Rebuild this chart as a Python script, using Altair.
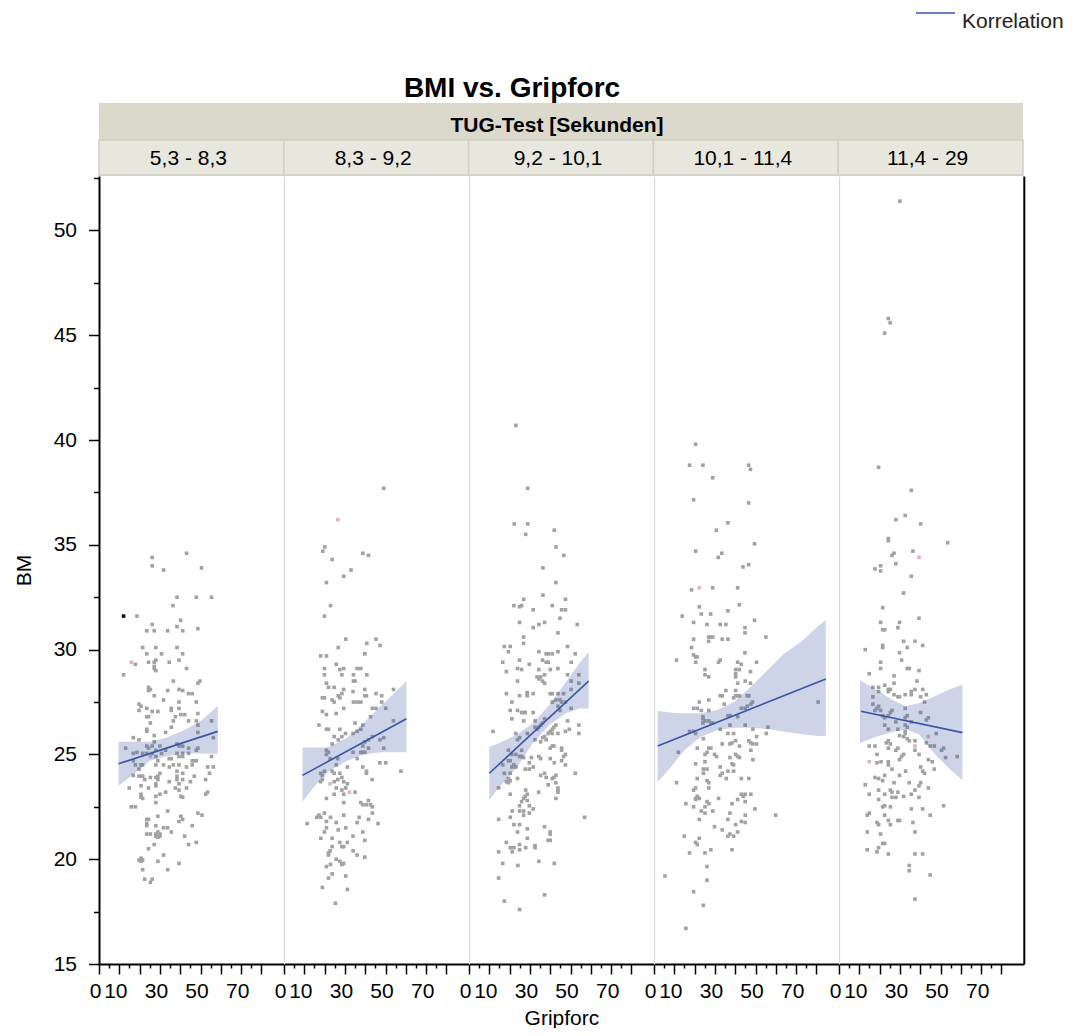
import altair as alt
import pandas as pd

groups = ["5,3 - 8,3", "8,3 - 9,2", "9,2 - 10,1", "10,1 - 11,4", "11,4 - 29"]
facet_title = "TUG-Test [Sekunden]"
chart_title = "BMI vs. Gripforc"
x_title = "Gripforc"
y_title = "BM"
legend_label = "Korrelation"

# (Gripforc, BMI) per panel
p1 = [(43.1,34.6),(26.2,34.4),(26.2,34.0),(50.5,33.9),(31.8,33.8),(38.4,32.5),(47.9,32.5),(55.4,32.5),
      (36.4,32.1),(18.7,31.6),(40.2,31.4),(26.2,31.2),(23.5,30.9),(27.2,30.9),(33.8,30.9),(38.4,31.1),
      (41.2,30.9),(48.7,31.0),(21.5,30.1),(28.0,30.1),(38.4,30.1),(23.5,29.8),(30.8,29.8),(41.2,29.8),
      (17.9,29.3),(24.4,29.4),(27.2,29.4),(28.0,29.5),(34.6,29.4),(39.4,29.5),(27.2,29.2),(27.2,29.1),
      (28.0,29.0),(43.1,29.1),(12.1,28.8),(36.6,28.5),(49.7,28.5),(48.7,28.4),(24.4,28.2),(25.3,28.1),
      (24.4,28.05),(33.8,28.05),(39.4,28.1),(41.2,28.05),(44.1,27.9),(45.9,27.9),(27.2,27.8),(31.8,27.6),
      (39.4,27.5),(47.9,27.5),(19.7,27.4),(20.7,27.3),(23.5,27.2),(19.7,27.1),(35.6,27.2),(35.6,27.1),
      (39.4,27.2),(26.2,27.05),(29.0,27.05),(37.6,26.8),(40.3,26.9),(42.2,26.9),(48.7,26.95),(23.5,26.8),
      (24.4,26.8),(36.6,26.6),(44.1,26.6),(47.9,26.6),(55.4,26.6),(25.3,26.5),(35.6,26.3),(48.7,26.4),
      (23.5,26.2),(23.5,26.1),(32.8,26.05),(48.7,26.05),(27.2,25.9),(16.9,25.8),(19.7,25.7),(56.3,25.8),
      (27.2,25.6),(13.1,25.3),(23.5,25.4),(24.4,25.3),(26.2,25.4),(30.0,25.4),(28.0,25.2),(32.8,25.2),
      (38.4,25.5),(39.4,25.4),(41.2,25.4),(44.1,25.3),(47.9,25.2),(48.7,25.3),(16.9,25.05),(18.7,25.1),
      (21.5,25.05),(23.5,25.05),(26.2,25.05),(30.8,25.05),(38.4,25.05),(41.2,25.05),(44.1,25.05),
      (28.0,24.9),(29.0,24.7),(34.6,24.8),(35.6,24.8),(39.4,24.9),(41.2,24.9),(45.9,24.7),(47.9,24.7),
      (55.4,24.9),(16.9,24.7),(17.9,24.5),(20.7,24.5),(21.5,24.5),(28.0,24.5),(31.8,24.5),(34.6,24.4),
      (36.6,24.5),(39.4,24.5),(43.1,24.4),(45.9,24.5),(46.9,24.7),(53.5,24.4),(56.3,24.4),(19.7,24.3),
      (54.4,24.1),(30.0,24.1),(29.0,23.96),(38.4,24.2),(38.4,23.96),(16.9,24.0),(41.2,24.1),(19.7,23.96),
      (20.7,23.96),(21.5,23.96),(28.0,23.9),(25.3,23.9),(22.5,23.8),(29.0,23.8),(38.4,23.8),(41.2,23.8),
      (46.9,23.96),(52.5,23.8),(34.6,23.7),(39.4,23.6),(45.0,23.7),(28.0,23.6),(28.0,23.5),(20.7,23.5),
      (37.6,23.4),(39.4,23.3),(43.1,23.4),(14.9,23.4),(24.4,23.4),(32.8,23.2),(30.0,23.1),(20.7,23.1),
      (28.0,23.0),(40.3,23.0),(41.2,22.96),(20.7,22.96),(21.5,22.9),(52.5,23.1),(53.5,23.2),(15.9,22.5),
      (17.9,22.5),(28.0,22.7),(33.8,22.3),(48.7,22.2),(50.7,22.1),(29.0,22.05),(40.3,22.05),(23.5,21.9),
      (24.4,21.9),(41.2,21.9),(39.4,21.8),(23.5,21.7),(23.5,21.6),(28.0,21.6),(31.8,21.5),(33.8,21.5),
      (45.9,21.6),(35.6,21.3),(23.5,21.2),(25.3,21.2),(28.0,21.2),(29.0,21.3),(30.0,21.2),(28.0,21.1),
      (30.0,21.1),(29.0,21.05),(42.2,21.1),(27.2,20.7),(44.1,20.7),(47.9,20.8),(24.4,20.5),(31.8,20.2),
      (20.7,20.05),(21.5,19.96),(19.7,19.96),(20.7,19.9),(29.0,19.9),(39.4,19.8),(21.5,19.5),(33.8,19.5),
      (22.5,19.05),(26.2,19.05),(25.3,18.9)]

p2 = [(49.1,37.7),(20.1,34.9),(19.1,34.7),(23.7,34.3),(38.8,34.6),(41.6,34.5),(33.0,33.8),(29.4,33.5),
      (20.9,33.2),(22.9,32.1),(19.9,31.6),(30.4,30.5),(45.3,30.5),(40.8,30.3),(47.3,30.2),(26.7,30.1),
      (18.1,29.7),(20.9,29.7),(39.8,29.8),(25.7,29.3),(29.4,29.1),(27.5,29.05),(19.9,29.1),(36.0,29.1),
      (37.8,29.1),(19.9,28.8),(28.5,28.8),(34.2,28.8),(40.8,28.8),(20.9,28.4),(21.9,28.2),(24.7,28.2),
      (34.2,28.5),(35.0,28.5),(29.4,28.1),(34.0,28.0),(39.8,28.1),(53.9,28.1),(45.3,27.9),(48.1,27.8),
      (18.9,27.7),(19.9,27.7),(23.7,27.6),(24.7,27.5),(26.7,27.8),(27.5,27.7),(28.5,27.9),(34.2,27.5),
      (36.0,27.5),(37.8,27.5),(39.8,27.8),(40.6,27.8),(48.1,27.5),(43.5,27.2),(45.3,27.2),(50.1,27.2),
      (29.4,27.2),(18.9,27.05),(20.9,26.9),(25.7,26.95),(42.6,26.8),(17.2,26.4),(20.9,26.2),(21.9,26.2),
      (27.5,26.2),(35.0,26.5),(53.9,26.6),(38.8,26.4),(37.8,26.2),(36.0,26.1),(30.3,26.0),(34.0,26.0),
      (24.7,25.85),(28.5,25.85),(26.7,25.7),(43.5,25.85),(49.1,25.8),(47.3,25.7),(41.6,25.7),(39.8,25.6),
      (23.7,25.5),(38.8,25.4),(41.6,25.3),(49.1,25.3),(20.9,25.2),(21.9,25.1),(20.9,25.0),(22.7,24.8),
      (26.5,24.8),(34.0,25.1),(37.8,25.1),(38.8,25.1),(39.8,25.1),(25.7,24.5),(31.2,24.4),(36.0,24.8),
      (47.2,24.6),(50.1,24.6),(38.8,24.4),(40.6,24.2),(40.6,24.1),(57.6,24.2),(18.1,24.1),(18.9,24.0),
      (19.9,24.2),(23.7,24.2),(24.7,24.1),(27.5,24.1),(28.5,23.9),(26.5,23.8),(18.0,23.7),(18.9,23.8),
      (43.4,23.8),(24.7,23.7),(29.4,23.7),(31.2,23.6),(30.4,23.4),(25.7,23.4),(28.5,23.3),(35.0,23.2),
      (29.4,23.1),(24.7,23.1),(20.9,22.9),(41.6,22.8),(37.8,22.7),(38.8,22.6),(40.6,22.6),(42.6,22.6),
      (43.5,22.5),(29.4,22.7),(43.5,22.2),(19.9,22.2),(17.2,22.1),(16.2,22.0),(18.1,22.0),(22.9,22.0),
      (29.4,22.1),(37.0,22.0),(41.6,21.9),(20.9,21.8),(25.7,21.75),(36.0,21.75),(46.3,21.7),(11.4,21.7),
      (19.9,21.3),(20.9,21.5),(26.7,21.4),(30.4,21.5),(38.8,21.3),(34.0,21.1),(18.1,21.0),(23.7,21.0),
      (39.8,20.9),(27.5,20.8),(31.2,20.8),(28.5,20.6),(29.4,20.6),(23.7,20.6),(22.7,20.4),(21.9,20.3),
      (21.9,20.2),(34.0,20.4),(36.0,20.2),(39.8,20.1),(25.7,20.0),(27.5,19.9),(29.4,19.8),(28.5,19.75),
      (22.9,19.75),(20.9,19.65),(23.7,19.3),(21.9,19.1),(30.4,19.2),(18.9,18.65),(31.2,18.56),(25.3,17.9)]

p3 = [(23.1,40.7),(28.9,37.7),(22.3,36.0),(28.9,36.0),(27.9,35.5),(42.0,35.7),(42.8,34.9),(46.7,34.5),
      (36.4,33.9),(42.8,33.2),(36.4,32.6),(47.5,32.4),(26.9,32.4),(22.1,32.1),(24.9,32.05),(25.9,32.1),
      (41.0,32.1),(31.6,31.9),(45.6,31.9),(47.5,31.9),(44.8,31.5),(24.9,31.3),(37.2,31.3),(34.4,31.2),
      (31.6,31.05),(53.3,31.2),(43.8,30.8),(26.9,30.6),(26.9,30.3),(17.4,30.15),(20.3,30.15),(48.5,30.15),
      (19.4,29.9),(34.4,29.9),(38.0,29.8),(39.0,29.8),(41.0,29.8),(43.8,29.9),(52.3,29.8),(16.6,29.4),
      (24.9,29.5),(29.7,29.3),(36.2,29.5),(38.0,29.4),(39.0,29.4),(50.3,29.4),(18.4,28.95),(23.9,29.1),
      (25.9,29.05),(34.4,29.05),(40.0,29.05),(43.8,29.1),(37.2,28.8),(33.5,28.7),(35.3,28.7),(34.4,28.6),
      (36.2,28.5),(37.2,28.4),(23.9,28.5),(48.5,28.8),(54.1,28.8),(50.3,28.5),(54.1,28.4),(50.3,28.1),
      (18.4,27.9),(28.7,27.95),(28.7,27.9),(28.7,27.8),(31.6,27.9),(40.0,27.9),(41.0,27.9),(43.8,27.9),
      (46.6,27.9),(24.9,27.8),(21.1,27.5),(41.0,27.5),(42.8,27.6),(44.8,27.6),(45.6,27.5),(47.5,27.5),
      (43.8,27.3),(50.3,27.2),(20.3,27.1),(23.9,27.1),(25.9,27.0),(26.9,27.0),(27.7,27.0),(31.6,27.0),
      (44.8,27.1),(21.1,26.7),(26.9,26.6),(32.5,26.6),(37.2,26.7),(48.5,26.6),(36.2,26.5),(35.3,26.4),
      (32.5,26.3),(33.5,26.2),(34.3,26.3),(41.8,26.3),(42.8,26.4),(54.1,26.4),(11.8,26.1),(23.1,26.0),
      (28.7,26.0),(41.0,26.2),(39.0,26.0),(40.0,26.1),(41.0,26.0),(43.8,26.0),(47.5,26.1),(49.4,26.2),
      (54.1,26.0),(23.9,25.7),(24.9,25.8),(37.2,25.85),(36.2,25.8),(32.5,25.7),(38.0,25.7),(35.3,25.6),
      (25.9,25.2),(19.4,25.2),(40.0,25.3),(41.0,25.4),(41.8,25.4),(45.6,25.3),(45.6,25.2),(47.5,25.0),
      (46.6,24.9),(23.1,25.0),(21.1,25.0),(24.9,24.9),(25.9,24.9),(26.9,24.85),(34.4,24.9),(35.3,24.8),
      (40.0,24.8),(19.4,24.7),(20.3,24.7),(30.7,24.85),(29.7,24.6),(42.0,24.6),(45.6,24.7),(47.5,24.5),
      (16.6,24.5),(22.1,24.5),(23.1,24.4),(21.1,24.4),(27.7,24.3),(29.7,24.3),(31.6,24.4),(52.3,24.1),
      (17.4,24.1),(20.3,24.1),(35.3,24.0),(37.2,24.1),(38.0,23.9),(42.8,24.0),(41.8,23.9),(41.0,23.85),
      (19.4,23.85),(23.9,23.85),(18.4,23.7),(20.3,23.75),(19.4,23.65),(39.0,23.55),(42.8,23.65),(14.6,23.4),
      (43.8,23.4),(43.8,23.3),(43.8,23.2),(27.9,23.3),(34.3,23.2),(20.3,23.1),(28.7,23.1),(27.7,23.0),
      (26.9,22.9),(28.7,22.8),(42.8,22.9),(25.9,22.75),(29.7,22.55),(24.9,22.55),(31.6,22.4),(26.9,22.3),
      (21.3,22.3),(24.9,22.3),(29.7,22.2),(26.9,22.1),(20.3,22.0),(14.6,21.9),(56.9,22.0),(22.1,21.65),
      (24.9,21.65),(37.2,21.55),(28.7,21.45),(23.9,21.3),(40.0,21.3),(40.0,21.2),(39.0,20.9),(40.0,20.9),
      (28.7,21.0),(18.4,20.8),(24.9,20.7),(20.3,20.55),(22.1,20.55),(21.3,20.35),(24.9,20.45),(27.9,20.55),
      (32.5,20.65),(32.5,20.55),(14.6,20.35),(16.6,19.8),(34.4,19.9),(42.0,19.8),(24.1,19.7),(14.6,19.1),
      (37.2,18.3),(17.4,18.0),(24.9,17.6)]

p4 = [(20.5,39.8),(17.5,38.8),(24.1,38.8),(46.6,38.8),(47.5,38.6),(28.9,38.2),(19.5,37.15),(46.6,37.0),
      (36.4,36.05),(30.7,35.7),(49.5,35.05),(20.5,34.7),(33.4,34.6),(31.6,34.4),(43.8,33.95),(46.6,34.05),
      (18.5,32.85),(28.9,32.95),(41.2,32.95),(22.3,32.04),(42.0,32.14),(13.9,31.6),(23.3,31.7),(27.9,31.7),
      (36.4,31.85),(19.5,31.3),(26.1,31.2),(32.6,31.2),(35.4,31.2),(49.5,31.4),(44.8,31.05),(44.8,30.8),
      (26.9,30.6),(27.9,30.6),(28.9,30.6),(26.9,30.4),(33.6,30.5),(36.4,30.5),(19.5,30.5),(55.1,30.6),
      (18.5,30.1),(44.8,29.85),(11.1,29.5),(20.5,29.4),(20.5,29.65),(19.5,29.75),(21.3,29.65),(31.8,29.4),
      (32.6,29.5),(41.2,29.4),(43.0,29.3),(50.5,29.4),(25.1,29.05),(40.2,29.05),(42.0,29.05),(47.5,28.95),
      (25.1,28.8),(26.9,28.7),(40.2,28.85),(40.2,28.7),(41.2,28.4),(47.5,28.4),(44.9,28.5),(35.4,28.05),
      (40.2,28.05),(33.6,27.8),(32.6,27.8),(34.6,27.4),(39.2,27.7),(40.2,27.8),(41.2,27.8),(42.1,27.8),
      (45.9,27.8),(46.7,27.8),(22.3,27.5),(27.0,27.6),(43.0,27.2),(44.9,27.2),(45.9,27.3),(47.7,27.4),
      (48.5,27.5),(19.5,27.2),(21.3,27.2),(23.3,27.1),(27.0,27.1),(24.1,26.8),(24.1,26.7),(25.1,26.6),
      (27.0,26.6),(28.0,26.5),(24.1,26.5),(28.9,26.5),(37.4,26.85),(36.4,26.85),(41.2,26.8),(37.4,26.4),
      (32.6,26.2),(44.9,26.4),(48.7,26.2),(56.1,26.3),(17.5,26.1),(20.5,26.0),(19.5,26.1),(36.4,26.0),
      (39.2,26.0),(55.3,26.0),(50.5,25.85),(24.3,25.75),(46.7,25.65),(47.7,25.55),(48.7,25.5),(50.5,25.5),
      (33.6,25.5),(37.4,25.5),(38.4,25.55),(40.2,25.65),(42.1,25.4),(21.3,25.3),(27.0,25.3),(28.0,25.3),
      (26.1,25.1),(25.1,25.0),(29.8,25.0),(30.8,24.9),(12.0,25.1),(47.7,25.2),(40.2,25.0),(41.2,24.9),
      (42.1,24.85),(37.4,24.85),(48.7,24.75),(25.1,24.65),(20.5,24.55),(38.4,24.55),(39.2,24.5),(32.6,24.4),
      (24.3,24.3),(26.1,24.3),(36.4,24.2),(39.2,24.2),(33.6,24.1),(24.3,24.1),(32.6,24.0),(21.3,23.85),
      (35.6,23.85),(43.0,23.85),(46.7,23.85),(26.1,23.75),(27.0,23.65),(27.0,23.4),(11.1,23.65),(20.5,23.4),
      (19.5,23.3),(21.3,23.0),(20.5,22.9),(22.3,22.9),(20.5,22.85),(31.8,22.9),(41.2,22.85),(43.0,23.1),
      (44.9,23.1),(47.7,23.1),(44.0,23.0),(44.9,22.75),(15.7,22.65),(26.1,22.75),(27.0,22.65),(38.4,22.65),
      (19.5,22.5),(25.1,22.5),(28.9,22.3),(23.3,22.3),(25.1,22.2),(37.4,22.2),(49.7,22.4),(44.9,22.1),
      (22.3,21.9),(36.4,21.9),(43.0,21.8),(44.9,21.75),(59.9,22.1),(29.8,21.55),(40.2,21.65),(33.6,21.4),
      (41.2,21.3),(37.4,21.2),(36.4,21.1),(39.2,21.1),(14.9,21.1),(22.3,21.0),(20.5,20.8),(21.3,20.7),
      (28.0,20.45),(38.4,20.45),(17.5,20.3),(25.1,20.3),(26.1,19.65),(5.4,19.2),(26.1,19.0),(19.5,18.45),
      (24.3,17.8),(15.7,16.7),(80.8,27.5)]

p5 = [(30.0,51.4),(24.3,45.8),(25.2,45.6),(22.5,45.1),(19.5,38.7),(35.6,37.6),(28.0,36.2),(32.6,36.4),
      (40.2,36.0),(24.3,35.3),(24.3,35.2),(53.5,35.1),(36.4,34.7),(26.1,34.5),(27.1,34.6),(28.0,34.1),
      (20.5,34.0),(17.7,33.85),(20.5,33.75),(35.6,33.5),(31.8,32.7),(21.5,32.0),(20.5,31.3),(29.8,31.3),
      (39.4,31.5),(21.5,30.95),(22.5,30.95),(29.0,31.05),(31.8,30.4),(37.4,30.4),(33.6,30.1),(21.5,30.2),
      (21.5,30.1),(41.2,30.2),(12.9,30.0),(29.8,29.85),(30.8,29.5),(20.5,29.4),(20.5,29.1),(33.6,29.1),
      (34.6,29.1),(39.4,29.0),(14.9,28.85),(27.1,28.75),(27.1,28.4),(38.4,28.5),(22.5,28.3),(16.7,28.2),
      (19.5,28.2),(19.5,28.0),(24.3,28.1),(25.3,28.1),(24.3,28.0),(37.4,28.1),(35.6,28.0),(41.2,28.1),
      (16.7,27.75),(27.1,27.85),(29.0,27.75),(29.8,27.75),(32.6,27.85),(35.6,27.85),(40.2,27.75),(43.0,27.85),
      (42.1,27.5),(16.7,27.4),(19.5,27.3),(18.7,27.2),(17.7,27.1),(20.5,27.1),(25.3,27.0),(26.1,27.1),
      (32.6,27.2),(40.2,27.0),(44.0,26.75),(43.0,26.65),(21.5,26.85),(22.5,26.75),(24.3,26.85),(33.6,26.85),
      (32.6,26.75),(35.6,26.55),(28.0,26.55),(22.5,26.4),(24.3,26.2),(29.0,26.2),(32.6,26.4),(33.6,26.3),
      (32.6,26.1),(32.6,26.0),(29.8,25.9),(31.8,25.85),(33.6,25.75),(34.6,25.65),(37.4,25.65),(47.9,26.0),
      (43.0,25.55),(24.3,25.65),(23.3,25.55),(25.3,25.5),(24.3,25.3),(14.9,25.4),(17.7,25.4),(37.4,25.2),
      (44.9,25.4),(46.9,25.4),(51.5,25.3),(50.5,25.2),(28.0,25.2),(29.0,25.3),(39.4,25.0),(31.8,25.0),
      (30.8,24.9),(18.7,25.0),(29.8,24.75),(44.0,24.75),(45.9,24.65),(52.5,24.85),(58.2,24.9),(18.7,24.6),
      (20.7,24.65),(24.3,24.65),(24.3,24.5),(26.1,24.3),(32.8,24.2),(40.2,24.4),(41.2,24.2),(42.1,24.1),
      (46.9,24.3),(22.5,24.0),(29.8,24.0),(17.7,23.9),(19.5,23.85),(21.5,23.75),(12.9,23.55),(27.1,23.65),
      (34.6,23.65),(40.2,23.65),(39.4,23.5),(44.0,23.4),(19.5,23.3),(25.3,23.3),(26.1,23.2),(29.0,23.2),
      (22.5,23.1),(14.9,23.1),(35.6,23.1),(37.4,23.3),(26.1,22.95),(28.0,22.95),(31.8,23.0),(19.5,22.85),
      (39.4,22.95),(21.5,22.5),(22.5,22.55),(25.3,22.5),(35.6,22.4),(41.2,22.4),(51.5,22.55),(14.9,22.2),
      (13.9,22.1),(22.5,22.1),(44.9,22.1),(18.7,21.75),(19.5,21.65),(24.3,21.85),(25.3,21.65),(29.0,21.85),
      (29.8,21.85),(36.4,21.75),(13.9,21.3),(20.5,21.2),(37.4,21.3),(21.5,20.75),(22.5,20.75),(19.5,20.55),
      (13.9,20.45),(18.7,20.35),(24.3,20.25),(37.4,20.25),(41.2,20.25),(34.6,19.7),(34.6,19.45),(44.9,19.25),
      (37.4,18.1)]

panel_points = [p1, p2, p3, p4, p5]

# highlighted (coloured) points: (panel index, Gripforc, BMI, kind)
highlights = [(0, 12.1, 31.6, "dark"), (0, 15.9, 29.4, "pink"), (0, 25.3, 24.9, "pink"),
              (1, 26.5, 36.2, "pink"), (1, 22.7, 23.6, "pink"), (1, 32.2, 23.2, "pink"),
              (3, 22.3, 32.95, "pink"),
              (4, 39.4, 34.4, "pink"), (4, 44.0, 25.85, "pink"), (4, 37.4, 25.4, "pink"), (4, 14.9, 24.65, "pink")]

# regression line end points
fit_x = [[9.6, 58.5], [9.1, 60.3], [10.0, 58.9], [1.8, 84.6], [10.8, 60.8]]
fit_y = [[24.55, 26.1], [24.0, 26.7], [24.1, 28.5], [25.4, 28.6], [27.06, 26.04]]

# confidence band
band_x = [[9.6, 17, 25, 33, 41, 50, 58.5],
          [9.1, 14.7, 20.4, 22.9, 31.1, 39.3, 47.5, 54.0, 60.3],
          [10.0, 14.9, 23.1, 31.3, 39.5, 47.7, 54.3, 58.9],
          [1.8, 8.4, 11.6, 14.9, 23.1, 31.3, 39.5, 47.7, 55.9, 64.1, 72.3, 80.5, 84.6],
          [10.3, 18.2, 26.4, 33.0, 39.5, 47.7, 54.3, 60.8]]
band_lo = [[23.5, 24.05, 24.7, 24.9, 25.05, 25.05, 25.05],
           [22.74, 23.45, 24.05, 24.25, 24.7, 25.0, 25.1, 25.1, 25.1],
           [22.82, 23.45, 24.33, 25.52, 26.4, 26.95, 27.19, 27.19],
           [23.67, 24.41, 24.81, 25.2, 25.84, 26.16, 26.27, 26.27, 26.21, 26.08, 25.97, 25.88, 25.88],
           [25.55, 25.84, 26.07, 26.2, 25.95, 24.96, 24.33, 23.77]]
band_hi = [[25.6, 25.6, 25.6, 25.8, 26.1, 26.6, 27.3],
           [25.33, 25.33, 25.33, 25.4, 25.8, 26.5, 27.3, 27.9, 28.5],
           [25.36, 25.55, 25.92, 26.47, 27.35, 28.46, 29.34, 29.89],
           [27.07, 27.0, 26.96, 26.96, 26.96, 27.12, 27.51, 28.23, 29.02, 29.82, 30.37, 31.09, 31.41],
           [28.54, 28.1, 27.6, 27.3, 27.45, 27.8, 28.1, 28.33]]

x_major = list(range(0, 85, 10))
x_minor = list(range(5, 80, 10))
x_labels = [0, 10, 30, 50, 70]
y_ticks = [15 + 2.5 * k for k in range(16)]

FONT = "Liberation Sans"
BLUE = "#3A55A4"
PW, PH = 184.8, 788
HH = 168

xs = alt.Scale(domain=[0, 91], nice=False, zero=False)
ys = alt.Scale(domain=[15, 52.6], nice=False, zero=False)

# three bottom axes on the same line: long ticks, short ticks, labels
ax_major = alt.Axis(orient="bottom", values=x_major, labels=False, tickSize=10, tickWidth=1.5,
                    tickColor="black", domainColor="black", domainWidth=2, grid=False, title=None)
ax_minor = alt.Axis(orient="bottom", values=x_minor, labels=False, tickSize=4, tickWidth=1.5,
                    tickColor="black", domain=False, grid=False, title=None)


def ax_labels(title):
    return alt.Axis(orient="bottom", values=x_labels, ticks=False, tickSize=0, domain=False,
                    grid=False, labelFontSize=21, labelFont=FONT, labelColor="black",
                    labelPadding=16, labelOffset=-4, labelFlush=False, labelOverlap=False,
                    format="d", title=title, titleFontSize=21, titleFont=FONT,
                    titleFontWeight="normal", titleColor="black", titlePadding=6)


def make_panel(i):
    pts = pd.DataFrame(panel_points[i], columns=["grip", "bmi"])
    hl = pd.DataFrame([h[1:] for h in highlights if h[0] == i], columns=["grip", "bmi", "kind"])
    band = pd.DataFrame({"grip": band_x[i], "lo": band_lo[i], "hi": band_hi[i]})
    fit = pd.DataFrame({"grip": fit_x[i], "bmi": fit_y[i]})
    last = i == 4

    if i == 0:
        yax = alt.Axis(orient="left", values=y_ticks,
                       labelExpr="datum.value % 5 == 0 ? datum.label : ''", format="d",
                       tickSize=10.5, tickWidth=1.5, tickColor="black",
                       tickDash={"condition": {"test": "datum.value % 5 != 0", "value": [5.5, 30]},
                                 "value": [30, 0]},
                       domainColor="black", domainWidth=2, grid=False,
                       labelFontSize=21, labelFont=FONT, labelColor="black", labelPadding=12,
                       labelOverlap=False, labelFlush=False,
                       title=y_title, titleFontSize=21, titleFont=FONT, titleFontWeight="normal",
                       titleColor="black", titlePadding=19)
    else:
        yax = alt.Axis(orient="left", labels=False, ticks=False, title=None, grid=False,
                       domainColor="#d8d8d8", domainWidth=1.2)

    def yenc(field, axis="merge"):
        if axis == "merge":
            return alt.Y(field, scale=ys, axis=None) if last else alt.Y(field, scale=ys)
        return alt.Y(field, scale=ys, axis=axis)

    layers = [alt.Chart(pts).mark_square(size=13, color="#a2a2a2", opacity=1).encode(
        x=alt.X("grip:Q", scale=xs, axis=ax_major), y=yenc("bmi:Q", yax))]
    for kind, col in [("pink", "#e3b3b8"), ("dark", "#111111")]:
        sub = hl[hl.kind == kind]
        if len(sub):
            layers.append(alt.Chart(sub).mark_square(size=13, color=col, opacity=1).encode(
                x=alt.X("grip:Q", scale=xs, axis=None), y=yenc("bmi:Q")))
    layers.append(alt.Chart(band).mark_area(color=BLUE, opacity=0.25).encode(
        x=alt.X("grip:Q", scale=xs, axis=ax_minor), y=yenc("lo:Q"), y2="hi:Q"))
    if last:
        line_y = yenc("bmi:Q", alt.Axis(orient="right", labels=False, ticks=False, title=None,
                                        grid=False, domainColor="black", domainWidth=2))
    else:
        line_y = yenc("bmi:Q")
    layers.append(alt.Chart(fit).mark_line(strokeWidth=1.6, color=BLUE).encode(
        x=alt.X("grip:Q", scale=xs, axis=ax_labels(x_title if i == 2 else None)), y=line_y))
    ch = alt.layer(*layers).properties(width=PW, height=PH)
    if last:
        ch = ch.resolve_axis(x="independent", y="independent")
    else:
        ch = ch.resolve_axis(x="independent")
    return ch


# ---- header block: legend, title, facet strip ----
hdr = pd.DataFrame({"grp": groups})
hx = alt.X("grp:N", sort=groups, scale=alt.Scale(domain=groups, paddingInner=0, paddingOuter=0),
           axis=None)
one = pd.DataFrame({"t": [facet_title], "c": [chart_title], "l": [legend_label]})

leg_line = alt.Chart(one).mark_rule(color=BLUE, strokeWidth=1.5).encode(
    x=alt.value(817), x2=alt.value(856), y=alt.value(5))
leg_text = alt.Chart(one).mark_text(fontSize=21, font=FONT, color="#222222", align="left",
                                    baseline="middle").encode(
    x=alt.value(863), y=alt.value(14), text="l:N")
title_text = alt.Chart(one).mark_text(fontSize=28, font=FONT, fontWeight="bold", color="black",
                                      align="center", baseline="alphabetic").encode(
    x=alt.value(413), y=alt.value(89), text="c:N")
hdr_bg = alt.Chart(one).mark_rect(color="#dad9cb").encode(
    x=alt.value(0), x2=alt.value(5 * PW), y=alt.value(95), y2=alt.value(HH))
hdr_cells = alt.Chart(hdr).mark_rect(fill="#e7e7de", stroke="#d1d0c2", strokeWidth=1.5).encode(
    x=hx, y=alt.value(132), y2=alt.value(HH - 1))
hdr_text = alt.Chart(hdr).mark_text(fontSize=21, font=FONT, color="black", dx=-3,
                                    baseline="alphabetic").encode(
    x=hx, y=alt.value(157), text="grp:N")
hdr_title = alt.Chart(one).mark_text(fontSize=21, font=FONT, fontWeight="bold", color="black",
                                     baseline="alphabetic").encode(
    x=alt.value(458), y=alt.value(124), text="t:N")
header = alt.layer(leg_line, leg_text, title_text, hdr_bg, hdr_cells, hdr_text, hdr_title).properties(
    width=5 * PW, height=HH)

row = alt.hconcat(*[make_panel(i) for i in range(5)], spacing=0, bounds="flush")

chart = alt.vconcat(header, row, spacing=0, bounds="flush").properties(
    padding={"left": 5, "top": 0, "right": 0, "bottom": 0},
).configure(font=FONT).configure_view(stroke=None)

chart.save("out.html", embed_options={"renderer": "svg", "actions": False})
